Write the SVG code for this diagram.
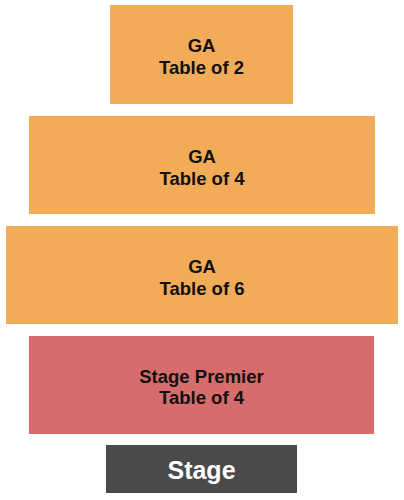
<svg xmlns="http://www.w3.org/2000/svg" width="404" height="500" viewBox="0 0 404 500">
<style>
.ga{fill:#F2AC58}
.sp{fill:#D76C6C}
.st{fill:#4A4A4A}
text{font-family:"Liberation Sans",Arial,sans-serif;font-weight:bold;text-anchor:middle}
.l{font-size:18.5px;fill:#111}
.s{font-size:25px;fill:#fff}
</style>
<rect width="404" height="500" fill="#fff"/>
<g id="ga2"><rect class="ga" x="110" y="5" width="183" height="99"/><text class="l" x="201.5" y="52">GA</text><text class="l" x="201.5" y="74">Table of 2</text></g>
<g id="ga4"><rect class="ga" x="29" y="116" width="346" height="98"/><text class="l" x="202" y="162.5">GA</text><text class="l" x="202" y="184.5">Table of 4</text></g>
<g id="ga6"><rect class="ga" x="6" y="226" width="392" height="98"/><text class="l" x="202" y="272.5">GA</text><text class="l" x="202" y="294.5">Table of 6</text></g>
<g id="premier"><rect class="sp" x="29" y="336" width="345" height="98"/><text class="l" x="201.5" y="383">Stage Premier</text><text class="l" x="201.5" y="404">Table of 4</text></g>
<g id="stage"><rect class="st" x="106" y="445" width="191" height="48"/><text class="s" x="201.5" y="478.5">Stage</text></g>
<g id="connectors"/>
</svg>
